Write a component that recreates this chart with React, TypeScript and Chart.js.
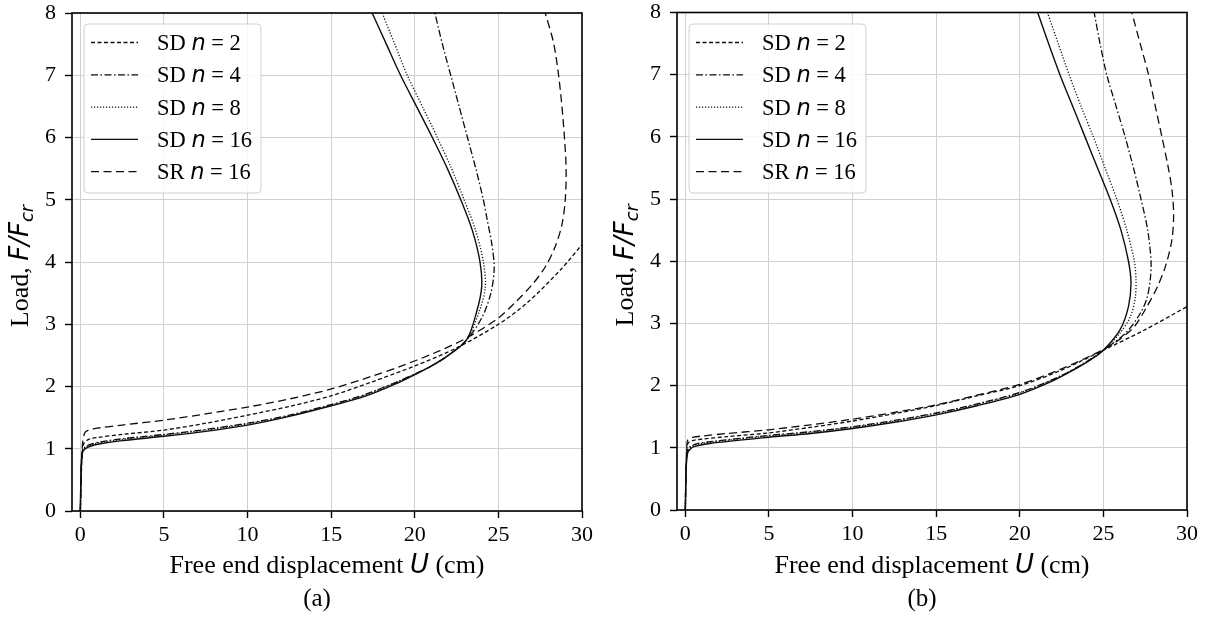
import React, { useEffect, useRef } from 'react';
import { Chart, registerables } from 'chart.js';

Chart.register(...registerables);

// ---------- axis ticks ----------
const X_TICKS = [0, 5, 10, 15, 20, 25, 30];
const Y_TICKS = [0, 1, 2, 3, 4, 5, 6, 7, 8];
const X_MIN = -0.5;
const X_MAX = 30;
const Y_MIN = 0;
const Y_MAX = 8;

// ---------- legend labels ----------
const SERIES_PREFIX = ['SD', 'SD', 'SD', 'SD', 'SR'];
const SERIES_N = [2, 4, 8, 16, 16];

// ---------- panel (a) ----------
const A_SD2_U = [0, 0.05, 0.1, 0.2, 0.5, 1, 2.5, 5, 7.5, 10, 12.5, 15, 17.5, 20, 22.5, 25, 26.7, 28.7, 30];
const A_SD2_F = [0, 0.5, 0.85, 1.08, 1.15, 1.18, 1.23, 1.3, 1.41, 1.54, 1.68, 1.85, 2.08, 2.33, 2.62, 3.0, 3.34, 3.87, 4.28];

const A_SD4_U = [0, 0.03, 0.08, 0.15, 0.3, 0.6, 1.2, 2.5, 5, 7.5, 10, 12.5, 15, 17, 19, 20, 21, 22, 23.1, 24.0, 24.55, 24.75, 24.6, 24.35, 24.1, 23.65, 23.15, 22.65, 22.15, 21.65, 21.2];
const A_SD4_F = [0, 0.5, 0.9, 0.98, 1.03, 1.07, 1.11, 1.16, 1.23, 1.31, 1.41, 1.54, 1.71, 1.87, 2.08, 2.2, 2.33, 2.5, 2.75, 3.1, 3.5, 3.9, 4.3, 4.65, 5.0, 5.5, 6.0, 6.5, 7.0, 7.5, 8.0];

const A_SD8_U = [0, 0.03, 0.08, 0.15, 0.3, 0.6, 1.2, 2.5, 5, 7.5, 10, 12.5, 15, 17, 19, 20, 21, 22, 23.1, 23.85, 24.22, 24.1, 23.65, 22.95, 22.2, 21.35, 20.45, 19.55, 18.8, 18.05];
const A_SD8_F = [0, 0.5, 0.88, 0.97, 1.02, 1.06, 1.1, 1.15, 1.22, 1.3, 1.4, 1.53, 1.7, 1.86, 2.08, 2.2, 2.33, 2.5, 2.75, 3.2, 3.6, 4.0, 4.5, 5.0, 5.5, 6.0, 6.5, 7.0, 7.5, 8.0];

const A_SD16_U = [0, 0.03, 0.08, 0.15, 0.3, 0.6, 1.2, 2.5, 5, 7.5, 10, 12.5, 15, 17, 19, 20, 21, 22, 23.1, 23.7, 24.0, 23.9, 23.45, 22.75, 21.95, 21.05, 20.1, 19.15, 18.3, 17.45];
const A_SD16_F = [0, 0.5, 0.85, 0.95, 1.0, 1.04, 1.08, 1.13, 1.2, 1.28, 1.38, 1.52, 1.69, 1.84, 2.06, 2.19, 2.33, 2.5, 2.75, 3.2, 3.6, 4.0, 4.5, 5.0, 5.5, 6.0, 6.5, 7.0, 7.5, 8.0];

const A_SR_U = [0, 0.05, 0.12, 0.25, 0.5, 1, 2.5, 5, 7.5, 10, 12.5, 15, 17.5, 19.1, 21.1, 23.1, 25, 26, 27, 27.8, 28.4, 28.8, 29.0, 29.05, 28.95, 28.8, 28.6, 28.3, 27.8];
const A_SR_F = [0, 0.6, 1.05, 1.25, 1.3, 1.33, 1.38, 1.46, 1.56, 1.67, 1.8, 1.96, 2.17, 2.32, 2.53, 2.78, 3.1, 3.35, 3.63, 3.92, 4.25, 4.6, 5.0, 5.5, 6.0, 6.5, 7.0, 7.52, 8.0];

// ---------- panel (b) ----------
const B_SD2_U = [0, 0.03, 0.08, 0.15, 0.5, 1, 2.5, 5, 7.5, 10, 12.5, 15, 17.5, 20, 22.5, 25, 27.5, 30];
const B_SD2_F = [0, 0.5, 0.85, 1.07, 1.12, 1.14, 1.18, 1.24, 1.33, 1.43, 1.55, 1.68, 1.84, 2.0, 2.25, 2.57, 2.9, 3.27];

const B_SD4_U = [0, 0.03, 0.08, 0.15, 0.3, 0.6, 1.5, 5, 7.5, 10, 12.5, 15, 17.5, 20, 22, 23.2, 24.2, 25, 26.35, 27.2, 27.6, 27.8, 27.85, 27.65, 27.25, 26.8, 26.3, 25.75, 25.2, 24.8, 24.45];
const B_SD4_F = [0, 0.5, 0.87, 0.98, 1.02, 1.06, 1.1, 1.2, 1.26, 1.34, 1.44, 1.56, 1.71, 1.89, 2.1, 2.26, 2.42, 2.57, 2.85, 3.16, 3.4, 3.7, 4.0, 4.5, 5.0, 5.5, 6.0, 6.5, 7.0, 7.5, 8.0];

const B_SD8_U = [0, 0.03, 0.08, 0.15, 0.3, 0.6, 1.5, 5, 7.5, 10, 12.5, 15, 17.5, 20, 22, 23.2, 24.2, 25, 26.0, 26.6, 26.9, 26.95, 26.85, 26.4, 25.8, 25.1, 24.4, 23.65, 22.95, 22.3, 21.65];
const B_SD8_F = [0, 0.5, 0.85, 0.96, 1.0, 1.05, 1.09, 1.19, 1.25, 1.33, 1.43, 1.55, 1.7, 1.88, 2.1, 2.26, 2.42, 2.57, 2.85, 3.1, 3.4, 3.7, 4.0, 4.5, 5.0, 5.5, 6.0, 6.5, 7.0, 7.5, 8.0];

const B_SD16_U = [0, 0.03, 0.08, 0.15, 0.26, 0.5, 1.45, 5, 7.5, 10, 12.5, 15, 17.5, 20, 22, 23.2, 24.2, 25, 26.0, 26.5, 26.65, 26.5, 26.05, 25.4, 24.65, 23.9, 23.15, 22.4, 21.72, 21.07];
const B_SD16_F = [0, 0.5, 0.82, 0.93, 0.97, 1.02, 1.07, 1.17, 1.23, 1.31, 1.41, 1.53, 1.68, 1.86, 2.08, 2.25, 2.41, 2.57, 2.9, 3.27, 3.65, 4.0, 4.5, 5.0, 5.5, 6.0, 6.5, 7.0, 7.5, 8.0];

const B_SR_U = [0, 0.03, 0.08, 0.15, 0.5, 1, 2.5, 5, 7.5, 10, 12.5, 15, 17.5, 20, 22.5, 25, 25.85, 26.85, 27.6, 28.25, 28.75, 29.1, 29.2, 29.1, 28.85, 28.5, 28.1, 27.7, 27.2, 26.7];
const B_SR_F = [0, 0.55, 0.95, 1.13, 1.17, 1.19, 1.23, 1.29, 1.37, 1.46, 1.57, 1.69, 1.85, 2.02, 2.27, 2.58, 2.72, 2.95, 3.27, 3.6, 3.95, 4.35, 4.75, 5.15, 5.55, 6.0, 6.5, 7.0, 7.5, 8.0];

// ---------- styles ----------
const SERIF = "'Liberation Serif', 'Times New Roman', serif";
const MATH = "'DejaVu Sans', sans-serif";
const LINE_COLOR = '#0d0d0d';
const DASHES = [[4, 2.5], [7, 2.5, 1.5, 2.5], [1.2, 1.8], [], [8, 4.5]];
const WIDTHS = [1.3, 1.3, 1.3, 1.4, 1.3];
const LABEL_SIZE = 26;

type Seg = { text: string; font: string; dy?: number };

function drawRich(ctx: CanvasRenderingContext2D, segs: Seg[], x: number, y: number, align: 'center' | 'left') {
  const widths = segs.map((s) => {
    ctx.font = s.font;
    return ctx.measureText(s.text).width;
  });
  const total = widths.reduce((a, b) => a + b, 0);
  let cx = align === 'center' ? x - total / 2 : x;
  ctx.textAlign = 'left';
  ctx.textBaseline = 'alphabetic';
  segs.forEach((s, i) => {
    ctx.font = s.font;
    ctx.fillText(s.text, cx, y + (s.dy || 0));
    cx += widths[i];
  });
}

function zip(u: number[], f: number[]) {
  return u.map((x, i) => ({ x, y: f[i] }));
}

type Panel = { caption: string; us: number[][]; fs: number[][]; top: number; bottom: number };

const PANELS: Panel[] = [
  {
    caption: '(a)',
    us: [A_SD2_U, A_SD4_U, A_SD8_U, A_SD16_U, A_SR_U],
    fs: [A_SD2_F, A_SD4_F, A_SD8_F, A_SD16_F, A_SR_F],
    top: 13,
    bottom: 511,
  },
  {
    caption: '(b)',
    us: [B_SD2_U, B_SD4_U, B_SD8_U, B_SD16_U, B_SR_U],
    fs: [B_SD2_F, B_SD4_F, B_SD8_F, B_SD16_F, B_SR_F],
    top: 12.5,
    bottom: 510,
  },
];

const CW = 605;
const CH = 621;
const LEFT = 72;
const RIGHT = 582;

const decorPlugin = {
  id: 'decor',
  afterDraw(chart: any, _args: any, opts: any) {
    const { ctx, chartArea: ca } = chart;
    ctx.save();
    // frame
    ctx.strokeStyle = '#000';
    ctx.lineWidth = 1.6;
    ctx.strokeRect(ca.left, ca.top, ca.right - ca.left, ca.bottom - ca.top);

    // legend box
    const bx = 84, by = 24, bw = 177, bh = 169, r = 4;
    ctx.beginPath();
    ctx.moveTo(bx + r, by);
    ctx.lineTo(bx + bw - r, by);
    ctx.arcTo(bx + bw, by, bx + bw, by + r, r);
    ctx.lineTo(bx + bw, by + bh - r);
    ctx.arcTo(bx + bw, by + bh, bx + bw - r, by + bh, r);
    ctx.lineTo(bx + r, by + bh);
    ctx.arcTo(bx, by + bh, bx, by + bh - r, r);
    ctx.lineTo(bx, by + r);
    ctx.arcTo(bx, by, bx + r, by, r);
    ctx.closePath();
    ctx.fillStyle = 'rgba(255,255,255,0.85)';
    ctx.fill();
    ctx.strokeStyle = '#d0d0d0';
    ctx.lineWidth = 1;
    ctx.stroke();

    ctx.fillStyle = '#000';
    SERIES_PREFIX.forEach((p, i) => {
      const cy = 42.5 + i * 32.3;
      ctx.beginPath();
      ctx.setLineDash(DASHES[i]);
      ctx.strokeStyle = LINE_COLOR;
      ctx.lineWidth = WIDTHS[i];
      ctx.moveTo(91, cy);
      ctx.lineTo(138, cy);
      ctx.stroke();
      ctx.setLineDash([]);
      drawRich(
        ctx,
        [
          { text: p + ' ', font: `22.5px ${SERIF}` },
          { text: 'n', font: `italic 22.5px ${MATH}` },
          { text: ' = ' + SERIES_N[i], font: `22.5px ${SERIF}` },
        ],
        157,
        cy + 7.5,
        'left'
      );
    });

    // x title
    const midX = (ca.left + ca.right) / 2;
    drawRich(
      ctx,
      [
        { text: 'Free end displacement ', font: `${LABEL_SIZE}px ${SERIF}` },
        { text: 'U', font: `italic ${LABEL_SIZE}px ${MATH}` },
        { text: ' (cm)', font: `${LABEL_SIZE}px ${SERIF}` },
      ],
      midX,
      573,
      'center'
    );

    // caption
    drawRich(ctx, [{ text: opts.caption, font: `25px ${SERIF}` }], 317, 606, 'center');

    // y title
    const midY = (ca.top + ca.bottom) / 2 + 4;
    ctx.translate(28, midY);
    ctx.rotate(-Math.PI / 2);
    drawRich(
      ctx,
      [
        { text: 'Load, ', font: `${LABEL_SIZE}px ${SERIF}` },
        { text: 'F/F', font: `italic ${LABEL_SIZE}px ${MATH}` },
        { text: 'cr', font: `italic ${Math.round(LABEL_SIZE * 0.7)}px ${MATH}`, dy: 5 },
      ],
      0,
      0,
      'center'
    );
    ctx.restore();
  },
};

function PanelChart({ panel }: { panel: Panel }) {
  const ref = useRef<HTMLCanvasElement | null>(null);
  useEffect(() => {
    if (!ref.current) return;
    const datasets = panel.us.map((u, i) => ({
      label: SERIES_PREFIX[i] + ' n = ' + SERIES_N[i],
      data: zip(u, panel.fs[i]),
      showLine: true,
      pointRadius: 0,
      borderColor: LINE_COLOR,
      borderWidth: WIDTHS[i],
      borderDash: DASHES[i],
      tension: 0.3,
      fill: false,
    }));
    const grid = {
      color: '#d0d0d0',
      lineWidth: 1,
      tickColor: '#000',
      tickLength: 7,
      tickWidth: 1.4,
      drawTicks: true,
    };
    const chart = new Chart(ref.current, {
      type: 'scatter',
      data: { datasets },
      options: {
        responsive: false,
        animation: false,
        devicePixelRatio: 1,
        layout: { padding: { left: 0, right: CW - RIGHT, top: panel.top, bottom: 0 } },
        plugins: {
          legend: { display: false },
          tooltip: { enabled: false },
          decor: { caption: panel.caption },
        } as any,
        scales: {
          x: {
            type: 'linear',
            min: X_MIN,
            max: X_MAX,
            afterBuildTicks: (s: any) => {
              s.ticks = X_TICKS.map((v) => ({ value: v }));
            },
            afterFit: (s: any) => {
              s.height = CH - panel.bottom;
              s.paddingLeft = 0;
              s.paddingRight = 0;
            },
            ticks: {
              font: { family: SERIF, size: 22 },
              color: '#000',
              padding: 4,
              maxRotation: 0,
              autoSkip: false,
            },
            grid,
            border: { display: false },
          },
          y: {
            type: 'linear',
            min: Y_MIN,
            max: Y_MAX,
            afterBuildTicks: (s: any) => {
              s.ticks = Y_TICKS.map((v) => ({ value: v }));
            },
            afterFit: (s: any) => {
              s.width = LEFT;
              s.paddingTop = 0;
              s.paddingBottom = 0;
            },
            ticks: {
              font: { family: SERIF, size: 22 },
              color: '#000',
              padding: 9,
              autoSkip: false,
            },
            grid,
            border: { display: false },
          },
        },
      } as any,
      plugins: [decorPlugin],
    });
    return () => chart.destroy();
  }, [panel]);
  return <canvas ref={ref} width={CW} height={CH} style={{ display: 'block', width: CW, height: CH }} />;
}

export default function App() {
  return (
    <div style={{ position: 'absolute', left: 0, top: 0, width: 1210, height: 621, background: '#fff' }}>
      <div style={{ position: 'absolute', left: 0, top: 0 }}>
        <PanelChart panel={PANELS[0]} />
      </div>
      <div style={{ position: 'absolute', left: CW, top: 0 }}>
        <PanelChart panel={PANELS[1]} />
      </div>
    </div>
  );
}
